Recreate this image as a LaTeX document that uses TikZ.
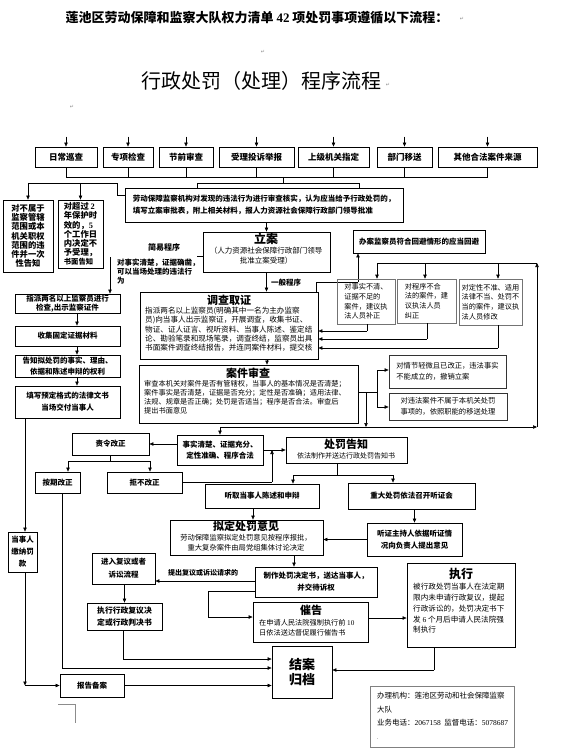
\documentclass[tikz,border=0pt]{standalone}
\usepackage{fontspec}
\setmainfont{Noto Sans CJK SC}
\newfontfamily\tm{Liberation Serif}
\newfontfamily\dv{DejaVu Sans}
\usetikzlibrary{arrows.meta,calc}
\newcommand\fz[2]{\fontsize{#1}{#2}\selectfont}
\newcommand\bx[7]{%
\pgfmathsetmacro\bcx{(#2+#4)/2}%
\pgfmathsetmacro\bcy{(#3+#5)/2}%
\pgfmathsetmacro\bw{#4-#2}%
\pgfmathsetmacro\bh{#5-#3}%
\node[#6,minimum width=\bw pt,minimum height=\bh pt] (#1) at (\bcx,\bcy) {#7};}
\begin{document}
\begin{tikzpicture}[x=1pt,y=-1pt,
  box/.style={draw,line width=0.8pt,inner sep=0pt,align=center,font=\fz{7.5}{10}\bfseries},
  gbox/.style={box,draw=black!55,line width=0.6pt,font=\fz{7.2}{9.6}},
  arr/.style={-{Triangle[length=4pt,width=3.4pt]},line width=0.6pt},
  ln/.style={line width=0.6pt},
  pmark/.style={font=\dv\fz{5}{6},text=black!45,inner sep=0pt}]
\useasboundingbox (0,0) rectangle (566,751);
\fill[white] (0,0) rectangle (566,751);
% titles
\node[font=\fz{13}{15}\bfseries,inner sep=0pt] (t1) at (257,18) {莲池区劳动保障和监察大队权力清单 {\tm\bfseries 42} 项处罚事项遵循以下流程：};
\node[pmark] (m1) at (462,19) {↵};
\node[pmark] (m2) at (263,52) {↵};
\node[font=\fz{20}{22},inner sep=0pt] (t2) at (261,81) {行政处罚（处理）程序流程};
\node[pmark] (m3) at (388,85) {↵};
\node[pmark] (m4) at (72,107) {↵};
% sources
\bx{s1}{35}{147}{97}{167}{box,font=\fz{8.5}{10}\bfseries}{日常巡查}
\bx{s2}{103}{147}{153}{167}{box,font=\fz{8.5}{10}\bfseries}{专项检查}
\bx{s3}{159}{147}{213}{167}{box,font=\fz{8.5}{10}\bfseries}{节前审查}
\bx{s4}{219}{147}{294}{167}{box,font=\fz{8.5}{10}\bfseries}{受理投诉举报}
\bx{s5}{298}{147}{369}{167}{box,font=\fz{8.5}{10}\bfseries}{上级机关指定}
\bx{s6}{377}{147}{432}{167}{box,font=\fz{8.5}{10}\bfseries}{部门移送}
\bx{s7}{438}{147}{537}{167}{box,font=\fz{8.5}{10}\bfseries}{其他合法案件来源}
\foreach \n in {s1,s2,s3,s4,s5,s6,s7} \draw[arr] ([yshift=10pt]\n.north) -- (\n.north);
\coordinate (busy) at (0,177);
\foreach \n in {s1,s2,s3,s4,s5,s6,s7} \draw[ln] (\n.south) -- (\n.south |- busy);
\draw[ln] (s1.south |- busy) -- (s7.south |- busy);
% main check box
\bx{lab}{125}{188}{403}{222}{box,align=left,font=\fz{7.5}{12}\bfseries}{劳动保障监察机构对发现的违法行为进行审查核实，认为应当给予行政处罚的，\\填写立案审批表，附上相关材料，报人力资源社会保障行政部门领导批准}
\coordinate (bk) at (283,183);
\coordinate (bkl) at (197,183);
\coordinate (bkr) at (359,183);
\draw[ln] (bk |- busy) -- (bk);
\draw[ln] (bkl |- lab.north) -- (bkl) -- (bkr) -- (bkr |- lab.north);
% left boxes
\bx{bA}{3}{200}{53}{272}{box,font=\fz{8.3}{9.2}\bfseries}{对不属于\\监察管辖\\范围或本\\机关职权\\范围的违\\件并一次\\性告知}
\bx{bB}{58}{200}{103}{268}{box,align=left,font=\fz{8.3}{9.2}\bfseries}{对超过 {\tm 2}\\年保护时\\效的，{\tm 5}\\个工作日\\内决定不\\予受理，\\{\fz{7.3}{9.2}书面告知}}
\coordinate (lw) at (125,195);
\coordinate (lb) at (117,183);
\draw[ln] (lw) -| (lb);
\draw[ln] (lb) -- (lb -| bA.north);
\draw[arr] (lb -| bA.north) -- (bA.north);
\draw[arr] (lb -| bB.north) -- (bB.north);
% li an
\bx{la}{203}{232}{330}{272}{box}{}
\node[font=\fz{12}{14}\bfseries,inner sep=0pt] (lat) at (266,239) {立案};
\node[font=\fz{7.5}{10},align=center,inner sep=0pt] (las) at (266,256) {（人力资源社会保障行政部门领导\\批准立案受理）};
\draw[arr] (lab.south -| la.north) -- (la.north);
% simple procedure
\node[font=\fz{8}{10}\bfseries,inner sep=0pt] (jyl) at (164,247) {简易程序};
\draw[ln] ([yshift=-4pt]la.west) -- ++(-6,0);
\node[anchor=north west,align=left,font=\fz{7.5}{9}\bfseries,inner sep=0pt] (jyt) at (117,259) {对事实清楚，证据确凿，\\可以当场处理的违法行\\为};
\coordinate (jv) at (110,257);
\bx{zp}{15}{294}{120}{313}{box,font=\fz{7.5}{9.5}\bfseries}{指派两名以上监察员进行\\检查,出示监察证件}
\bx{sj}{15}{326}{120}{346}{box}{收集固定证据材料}
\bx{gz}{15}{355}{120}{377}{box,font=\fz{7.5}{10.5}\bfseries}{告知拟处罚的事实、理由、\\依据和陈述申辩的权利}
\bx{txz}{15}{386}{120}{418}{box,font=\fz{7.5}{12}\bfseries}{填写预定格式的法律文书\\当场交付当事人}
\draw[arr] (jv) -- (jv |- zp.north);
\coordinate (lc) at (77,0);
\draw[arr] (zp.south -| lc) -- (sj.north -| lc);
\draw[arr] (sj.south -| lc) -- (gz.north -| lc);
\draw[arr] (gz.south -| lc) -- (txz.north -| lc);
% investigation
\bx{dc}{140}{292}{318}{359}{box}{}
\node[font=\fz{11}{13}\bfseries,inner sep=0pt] (dct) at (229,300) {调查取证};
\node[anchor=north west,align=left,font=\fz{7.6}{9.2},inner sep=0pt] (dcb) at (145,307) {指派两名以上监察员(明确其中一名为主办监察\\员)向当事人出示监察证，开展调查，收集书证、\\物证、证人证言、视听资料、当事人陈述、鉴定结\\论、勘验笔录和现场笔录，调查终结，监察员出具\\书面案件调查终结报告，并连同案件材料，提交核};
\draw[arr] (la.south) -- (la.south |- dc.north);
\node[font=\fz{7.5}{9}\bfseries,anchor=west,inner sep=0pt] (ybl) at (271,283) {一般程序};
% avoidance
\bx{hb}{353}{230}{485}{253}{box,font=\fz{7.5}{9}\bfseries}{办案监察员符合回避情形的应当回避}
\coordinate (dh1) at (316,282);
\coordinate (dh2) at (358,282);
\draw[ln] (dc.north -| dh1) -- (dh1) -- (dh2);
\draw[arr] (dh2) -- (dh2 |- hb.south);
% sub boxes
\bx{r1s}{337}{279}{395}{324}{gbox,align=left}{对事实不清、\\证据不足的\\案件，建议执\\法人员补正}
\bx{r2s}{397}{279}{456}{323}{gbox,align=left}{对程序不合\\法的案件，建\\议执法人员\\纠正}
\bx{r3s}{459}{279}{522}{325}{gbox,align=left}{对定性不准、适用\\法律不当、处罚不\\当的案件，建议执\\法人员修改}
\coordinate (vt) at (537,263);
\coordinate (vl) at (377,263);
\coordinate (v2) at (425,263);
\coordinate (v3) at (498,263);
\draw[ln] (vt) -- (vl);
\draw[arr] (vl) -- (vl |- r1s.north);
\draw[arr] (v2) -- (v2 |- r2s.north);
\draw[arr] (v3) -- (v3 |- r3s.north);
\coordinate (rt1) at (367,331);
\coordinate (rt2) at (427,339);
\coordinate (rt3) at (498,348);
\draw[ln] (r1s.south -| rt1) -- (rt1);
\draw[arr] (rt1) -- (rt1 -| dc.east);
\draw[ln] (r2s.south -| rt2) -- (rt2);
\draw[arr] (rt2) -- (rt2 -| dc.east);
\draw[ln] (r3s.south -| rt3) -- (rt3);
\draw[arr] (rt3) -- (rt3 -| dc.east);
% case review
\bx{aj}{139}{365}{358}{423}{box}{}
\node[font=\fz{11}{13}\bfseries,inner sep=0pt] (ajt) at (248,373) {案件审查};
\node[anchor=north west,align=left,font=\fz{7.2}{9},inner sep=0pt] (ajb) at (144,380) {审查本机关对案件是否有管辖权，当事人的基本情况是否清楚；\\案件事实是否清楚，证据是否充分；定性是否准确；适用法律、\\法规、规章是否正确；处罚是否适当；程序是否合法。审查后\\提出书面意见};
\coordinate (da) at (267,0);
\draw[arr] (dc.south -| da) -- (aj.north -| da);
\bx{rr1}{389}{355}{506}{388}{box,align=left,draw=black!80,font=\fz{7.3}{11}}{对情节轻微且已改正，违法事实\\不能成立的，撤销立案}
\bx{rr2}{389}{393}{507}{420}{box,align=left,draw=black!80,font=\fz{7.3}{11}}{对违法案件不属于本机关处罚\\事项的，依照职能的移送处理}
\coordinate (ajr) at (377,392);
\coordinate (ajv1) at (377,370);
\coordinate (ajv2) at (377,407);
\draw[ln] (aj.east |- ajr) -- (ajr);
\draw[ln] (ajv1) -- (ajv2);
\draw[arr] (ajv1) -- (ajv1 -| rr1.west);
\draw[arr] (ajv2) -- (ajv2 -| rr2.west);
\coordinate (ajd) at (366,392);
\coordinate (ajd2) at (366,427);
\draw[arr] (ajd) -- (ajd2);
\coordinate (hl) at (220,427);
\coordinate (hr) at (537,427);
\draw[arr] (hl) -- (hr);
\draw[arr] (hr) -- (vt);
% decisions
\bx{sq}{177}{435}{263}{465}{box,font=\fz{7.5}{11.5}\bfseries}{事实清楚、证据充分、\\定性准确、程序合法}
\draw[arr] (hl) -- (hl |- sq.north);
\bx{zg}{72}{433}{149}{455}{box}{责令改正}
\draw[arr] (sq.west |- zg.east) -- (zg.east);
\bx{bq}{35}{472}{80}{493}{box}{按期改正}
\bx{jb}{107}{472}{182}{493}{box}{拒不改正}
\coordinate (zgy) at (0,461);
\coordinate (zga) at (68,461);
\coordinate (zgb) at (150,461);
\draw[ln] (zg.south) -- (zg.south |- zgy);
\draw[ln] (zga) -- (zgb);
\draw[arr] (zga) -- (zga |- bq.north);
\draw[arr] (zgb) -- (zgb |- jb.north);
\bx{pg}{286}{437}{407}{463}{box}{}
\node[font=\fz{11}{13}\bfseries,inner sep=0pt] (pgt) at (346,444) {处罚告知};
\node[font=\fz{7}{9},inner sep=0pt] (pgs) at (346,456) {依法制作并送达行政处罚告知书};
\draw[arr] (sq.east) -- (sq.east -| pg.west);
\coordinate (jx) at (272,482);
\draw[ln] (jb.east |- jx) -- (jx);
\draw[arr] (jx) -- (jx |- sq.east);
\bx{tq}{205}{484}{319}{508}{box}{听取当事人陈述和申辩}
\bx{zd}{348}{483}{475}{509}{box}{重大处罚依法召开听证会}
\coordinate (pgy) at (337,475);
\coordinate (pa) at (293,475);
\coordinate (pb) at (393,475);
\draw[ln] (pg.south -| pgy) -- (pgy);
\draw[ln] (pa) -- (pb);
\draw[arr] (pa) -- (pa |- tq.north);
\draw[arr] (pb) -- (pb |- zd.north);
\bx{ni}{170}{520}{323}{555}{box}{}
\node[font=\fz{11}{13}\bfseries,inner sep=0pt] (nit) at (246,526) {拟定处罚意见};
\node[font=\fz{7.3}{10},align=center,inner sep=0pt] (nis) at (246,543) {劳动保障监察拟定处罚意见按程序报批，\\重大复杂案件由局党组集体讨论决定};
\bx{tz}{367}{523}{462}{556}{box,font=\fz{7.5}{12}\bfseries}{听证主持人依据听证情\\况向负责人提出意见}
\coordinate (tn) at (253,0);
\draw[arr] (tq.south -| tn) -- (ni.north -| tn);
\draw[arr] (zd.south -| tz.north) -- (tz.north);
\draw[arr] (tz.west) -- (tz.west -| ni.east);
\bx{zz}{255}{567}{377}{597}{box,font=\fz{7.5}{12}\bfseries}{制作处罚决定书，送达当事人，\\并交待诉权}
\coordinate (nz) at (294,0);
\draw[arr] (ni.south -| nz) -- (zz.north -| nz);
\bx{fy}{92}{553}{155}{584}{box,font=\fz{7.5}{13}\bfseries}{进入复议或者\\诉讼流程}
\bx{zx}{87}{603}{162}{630}{box,font=\fz{7.8}{12.5}\bfseries}{执行行政复议决\\定或行政判决书}
\coordinate (zf) at (0,581);
\draw[arr] (zz.west |- zf) -- (fy.east |- zf);
\node[font=\fz{7}{9}\bfseries,inner sep=0pt] (fyl) at (203,573) {提出复议或诉讼请求的};
\draw[arr] (fy.south -| zx.north) -- (zx.north);
\bx{cg}{253}{602}{368}{642}{box}{}
\node[font=\fz{11}{13}\bfseries,inner sep=0pt] (cgt) at (311,610) {催告};
\node[anchor=north west,align=left,font=\fz{7.2}{10},inner sep=0pt] (cgb) at (259,619) {在申请人民法院强制执行前 {\tm 10}\\日依法送达督促履行催告书};
\coordinate (zc1) at (208,591);
\coordinate (zc2) at (208,617);
\draw[ln] (zz.west |- zc1) -- (zc1) -- (zc2);
\draw[arr] (zc2) -- (zc2 -| cg.west);
\bx{zh}{407}{563}{515}{647}{box}{}
\node[font=\fz{12}{14}\bfseries,inner sep=0pt] (zht) at (461,574) {执行};
\node[anchor=north west,align=left,font=\fz{7.6}{10.8},inner sep=0pt] (zhb) at (413,583) {被行政处罚当事人在法定期\\限内未申请行政复议，提起\\行政诉讼的，处罚决定书下\\发 {\tm 6} 个月后申请人民法院强\\制执行};
\coordinate (cz) at (0,618);
\draw[arr] (cg.east |- cz) -- (zh.west |- cz);
% end
\bx{ja}{272}{646}{332}{698}{box,font=\fz{13}{15}\bfseries}{结案\\归档}
\bx{ds}{8}{532}{37}{572}{box,font=\fz{7.5}{12}\bfseries}{当事人\\缴纳罚\\款}
\bx{bb}{60}{674}{124}{697}{box}{报告备案}
\coordinate (lc2) at (25,0);
\draw[arr] (txz.south -| lc2) -- (ds.north -| lc2);
\draw[arr] (ds.south -| lc2) -- (lc2 |- bb.west);
\draw[arr] (lc2 |- bb.west) -- (bb.west);
\coordinate (bqx) at (62,668);
\draw[ln] (bq.south -| bqx) -- (bqx);
\draw[arr] (bqx) -- (bqx -| ja.west);
\coordinate (zxx) at (123,659);
\draw[ln] (zx.south -| zxx) -- (zxx);
\draw[arr] (zxx) -- (zxx -| ja.west);
\draw[arr] (bb.east) -- (bb.east -| ja.west);
\coordinate (zhx) at (434,670);
\draw[ln] (zh.south -| zhx) -- (zhx);
\draw[arr] (zhx) -- (zhx -| ja.east);
% office box
\bx{bj}{370}{686}{514}{747}{box,draw=black!50}{}
\node[anchor=north west,align=left,font=\fz{7.5}{13.5},inner sep=0pt] (bjt) at (377,692) {办理机构：莲池区劳动和社会保障监察\\大队\\业务电话：{\tm 2067158}\ \ 监督电话：{\tm 5078687}\\{\fz{5}{6}.}};
% page corner mark
\draw[black!45,line width=0.5pt] (58,704) -- (75,704) -- (75,723);
\end{tikzpicture}
\end{document}
